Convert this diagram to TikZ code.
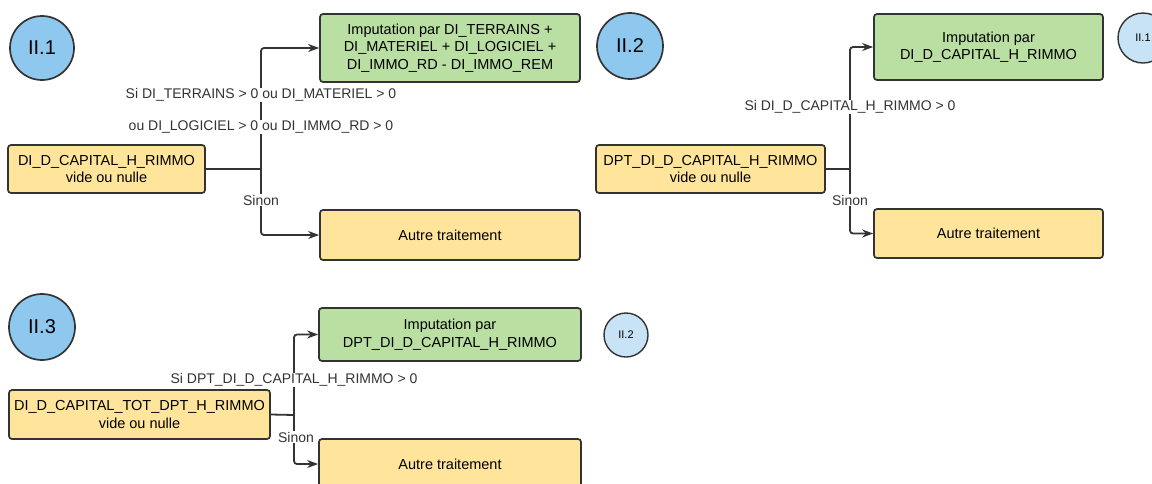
\documentclass[tikz,border=0pt]{standalone}
\usepackage{fontspec}
\setmainfont{Liberation Sans}
\usepackage{tikz}
\usepackage{xcolor}
\usetikzlibrary{arrows.meta}
\definecolor{bleu}{HTML}{8FC8EE}
\definecolor{bleuclair}{HTML}{C8E3F5}
\definecolor{vert}{HTML}{B9DFA2}
\definecolor{jaune}{HTML}{FFE59B}
\definecolor{trait}{HTML}{333333}
\tikzset{
  boite/.style={draw=trait, line width=1.7pt, rounded corners=3pt, align=center, inner sep=0pt,
    font=\fontsize{14.5}{17.5}\selectfont},
  cond/.style={boite, fill=jaune},
  imput/.style={boite, fill=vert},
  etape/.style={circle, draw=trait, line width=1.7pt, fill=bleu, inner sep=0pt, font=\fontsize{20}{22}\selectfont},
  renvoi/.style={circle, draw=trait, line width=1.4pt, fill=bleuclair, inner sep=0pt, font=\fontsize{11}{13}\selectfont},
  lbl/.style={fill=white, inner sep=1pt, text=trait, font=\fontsize{14}{16}\selectfont},
  hv/.style={to path={|- (\tikztotarget)}},
  fleche/.style={-{Stealth[length=11pt,width=8pt]}, trait, line width=1.8pt, rounded corners=3pt}
}
\begin{document}
\begin{tikzpicture}[x=1pt, y=-1pt]
  \useasboundingbox (0,0) rectangle (1152,483);
  % II.1
  \node[etape, minimum size=64pt] (c1) at (42,48) {II.1};
  \node[cond, minimum width=197pt, minimum height=48pt] (l1) at (106.5,169) {DI\_D\_CAPITAL\_H\_RIMMO\\vide ou nulle};
  \node[imput, minimum width=260pt, minimum height=68pt] (g1) at (450,48)
    {Imputation par DI\_TERRAINS +\\DI\_MATERIEL + DI\_LOGICIEL +\\DI\_IMMO\_RD - DI\_IMMO\_REM};
  \node[cond, minimum width=260pt, minimum height=50pt] (a1) at (450,235) {Autre traitement};
  \coordinate (b1) at (261,169);
  \draw[trait, line width=1.8pt] (l1.east) -- (b1);
  \path[fleche]
    (b1) edge[hv] (g1.west)
    (b1) edge[hv] (a1.west);
  \node[lbl] (t1) at (261,95) {Si DI\_TERRAINS > 0 ou DI\_MATERIEL > 0};
  \node[lbl] (t2) at (261,127) {ou DI\_LOGICIEL > 0 ou DI\_IMMO\_RD > 0};
  \node[lbl] (s1) at (261,200) {Sinon};
  % II.2
  \node[etape, minimum size=66pt] (c2) at (630,46) {II.2};
  \node[cond, minimum width=229pt, minimum height=48pt] (l2) at (710.5,169) {DPT\_DI\_D\_CAPITAL\_H\_RIMMO\\vide ou nulle};
  \node[imput, minimum width=229pt, minimum height=66pt] (g2) at (988.5,47) {Imputation par\\DI\_D\_CAPITAL\_H\_RIMMO};
  \node[cond, minimum width=229pt, minimum height=49pt] (a2) at (988.5,233.5) {Autre traitement};
  \node[renvoi, minimum size=50pt] (r2) at (1143,38) {II.1};
  \coordinate (b2) at (850,169);
  \draw[trait, line width=1.8pt] (l2.east) -- (b2);
  \path[fleche]
    (b2) edge[hv] (g2.west)
    (b2) edge[hv] (a2.west);
  \node[lbl] (t3) at (850,107) {Si DI\_D\_CAPITAL\_H\_RIMMO > 0};
  \node[lbl] (s2) at (850,200) {Sinon};
  % II.3
  \node[etape, minimum size=66pt] (c3) at (42,327) {II.3};
  \node[cond, minimum width=261pt, minimum height=49pt] (l3) at (139.5,414.5) {DI\_D\_CAPITAL\_TOT\_DPT\_H\_RIMMO\\vide ou nulle};
  \node[imput, minimum width=262pt, minimum height=53pt] (g3) at (450,334.5) {Imputation par\\DPT\_DI\_D\_CAPITAL\_H\_RIMMO};
  \node[cond, minimum width=262pt, minimum height=50pt] (a3) at (450,464) {Autre traitement};
  \node[renvoi, minimum size=44pt] (r3) at (626,335) {II.2};
  \coordinate (b3) at (294,415);
  \draw[trait, line width=1.8pt] (l3.east) -- (b3);
  \path[fleche]
    (b3) edge[hv] (g3.west)
    (b3) edge[hv] (a3.west);
  \node[lbl] (t4) at (294,380) {Si DPT\_DI\_D\_CAPITAL\_H\_RIMMO > 0};
  \node[lbl] (s3) at (296,437) {Sinon};
\end{tikzpicture}
\end{document}
